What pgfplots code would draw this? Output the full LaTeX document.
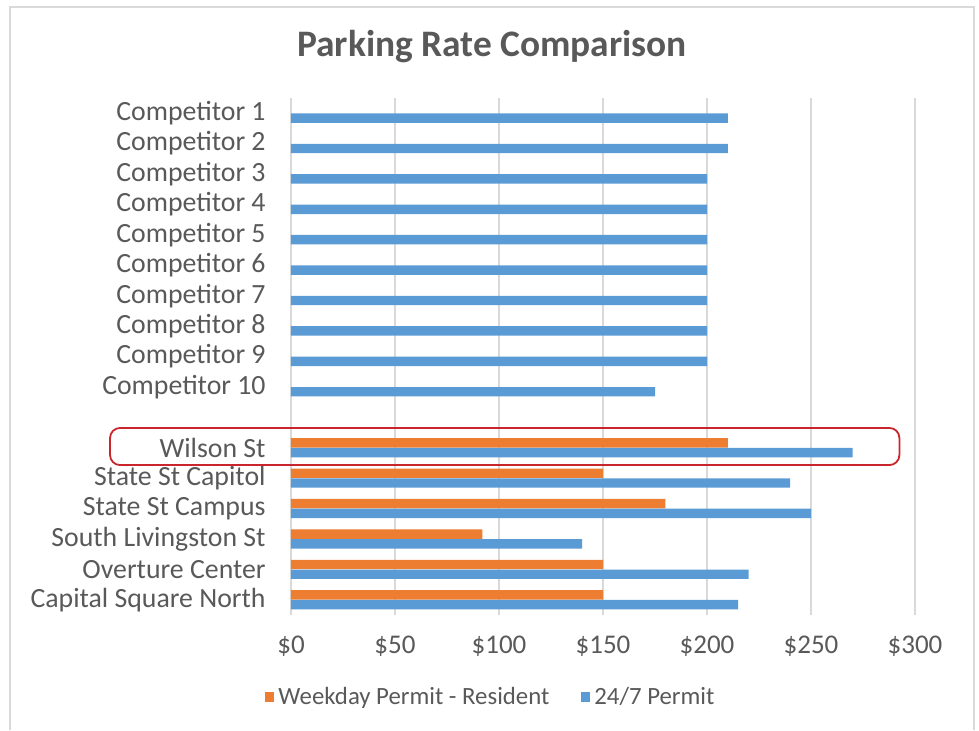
\documentclass[border=0pt]{standalone}
\usepackage{fontspec}
\setmainfont{Carlito}
\usepackage{pgfplots}
\pgfplotsset{compat=1.18}
\definecolor{xlorange}{HTML}{ED7D31}
\definecolor{xlblue}{HTML}{5B9BD5}
\definecolor{xltext}{HTML}{595959}
\definecolor{xlgrid}{HTML}{D9D9D9}
\definecolor{xlframe}{HTML}{D9D9D9}
\definecolor{xlred}{HTML}{C9252C}
\begin{document}
\begin{tikzpicture}
\path (0,0) rectangle (489.5pt,365pt);
\draw[xlframe, line width=0.8pt] (5pt,0pt) -- (5pt,361.5pt) -- (487pt,361.5pt) -- (487pt,0pt);
\node[font=\fontsize{18.7}{22}\selectfont\bfseries, text=xltext] at (246pt,341.5pt) {Parking Rate Comparison};
\begin{axis}[
  at={(145.5pt,57.5pt)}, anchor=south west,
  scale only axis, width=312pt, height=258.5pt,
  xmin=0, xmax=300, ymin=-0.5, ymax=16.5,
  clip=false,
  axis line style={draw=none},
  major tick length=0pt,
  xmajorgrids, grid style={xlgrid, line width=0.8pt},
  xtick={0,50,100,150,200,250,300},
  xticklabels={\$0,\$50,\$100,\$150,\$200,\$250,\$300},
  xticklabel style={font=\fontsize{13.5}{16}\selectfont, text=xltext, inner sep=0pt, anchor=north, yshift=-10.5pt},
  ytick={0,1,2,3,4,5,7,8,9,10,11,12,13,14,15,16},
  yticklabels={Capital Square North,Overture Center,South Livingston St,State St Campus,State St Capitol,Wilson St,Competitor 10,Competitor 9,Competitor 8,Competitor 7,Competitor 6,Competitor 5,Competitor 4,Competitor 3,Competitor 2,Competitor 1},
  yticklabel style={font=\fontsize{13.9}{16}\selectfont, text=xltext, inner sep=0pt, anchor=east, xshift=-12.5pt},
  legend style={at={(0.322,-0.159)}, anchor=center, draw=none, fill=none,
    legend columns=2, font=\fontsize{12.4}{14}\selectfont, text=xltext,
    /tikz/every even column/.append style={column sep=14pt},
    legend cell align=left},
  legend image code/.code={\fill[#1] (0pt,-2.5pt) rectangle (4.5pt,2.5pt);},
]
\addplot[xbar, bar width=0.31, bar shift=0.16, fill=xlorange, draw=none]
  coordinates {(150,0) (150,1) (92,2) (180,3) (150,4) (210,5)};
\addlegendentry{Weekday Permit - Resident}
\addplot[xbar, bar width=0.31, bar shift=-0.16, fill=xlblue, draw=none]
  coordinates {(215,0) (220,1) (140,2) (250,3) (240,4) (270,5)
    (175,7) (200,8) (200,9) (200,10) (200,11) (200,12) (200,13) (200,14) (210,15) (210,16)};
\addlegendentry{24/7 Permit}
\draw[xlred, line width=0.9pt, rounded corners=5pt] (axis cs:-87,4.43) rectangle (axis cs:292.5,5.65);
\end{axis}
\end{tikzpicture}
\end{document}
